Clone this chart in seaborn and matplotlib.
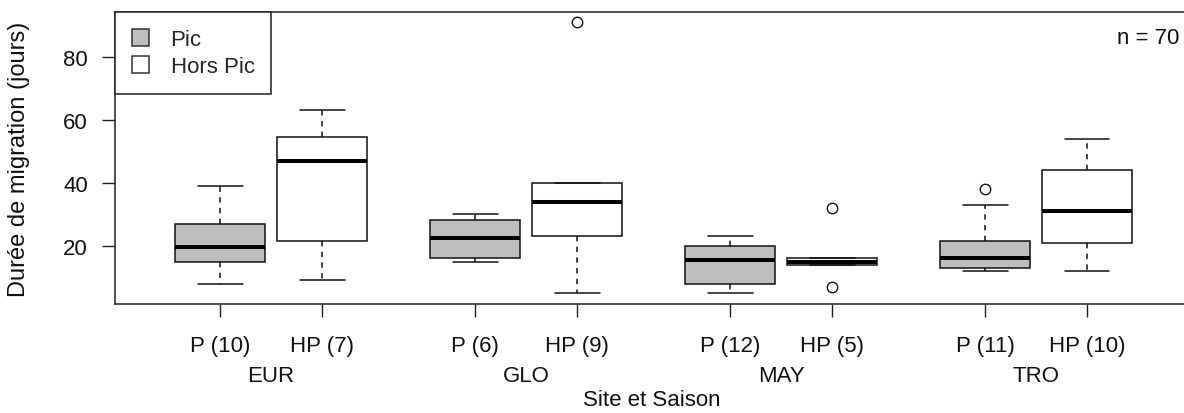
import pandas as pd
import numpy as np
import matplotlib
matplotlib.use('Agg')
import matplotlib.pyplot as plt
import matplotlib.transforms as mtransforms
from matplotlib.patches import Patch
import seaborn as sns

# donnees (durees de migration en jours) par site et saison
sites = ['EUR', 'GLO', 'MAY', 'TRO']
saisons = ['Pic', 'Hors Pic']
eur_p = [8, 12, 15, 15, 19, 20, 27, 27, 33, 39]
eur_hp = [9, 21, 22, 47, 54, 55, 63]
glo_p = [15, 15, 19, 26, 29, 30]
glo_hp = [5, 14, 23, 30, 34, 38, 40, 40, 91]
may_p = [5, 6, 7, 8, 12, 15, 16, 18, 20, 20, 22, 23]
may_hp = [7, 14, 15, 16, 32]
tro_p = [12, 12, 13, 13, 15, 16, 18, 21, 22, 33, 38]
tro_hp = [12, 18, 21, 21, 30, 32, 44, 44, 50, 54]

groupes = {('EUR', 'Pic'): eur_p, ('EUR', 'Hors Pic'): eur_hp,
           ('GLO', 'Pic'): glo_p, ('GLO', 'Hors Pic'): glo_hp,
           ('MAY', 'Pic'): may_p, ('MAY', 'Hors Pic'): may_hp,
           ('TRO', 'Pic'): tro_p, ('TRO', 'Hors Pic'): tro_hp}
rows = []
for (site, saison), vals in groupes.items():
    for v in vals:
        rows.append({'site': site, 'saison': saison, 'duree': v})
data = pd.DataFrame(rows)

sns.set_theme(style='white')
plt.rcParams['font.family'] = ['Liberation Sans', 'DejaVu Sans']

W, H = 1184, 414
fig = plt.figure(figsize=(W / 100, H / 100), dpi=100)
# zone de trace (pixels) : x 115 -> 1189, y 13 -> 305
ax = fig.add_axes([115 / W, 1 - 305 / H, (1189 - 115) / W, (305 - 13) / H])

gris = '#BEBEBE'
sns.boxplot(data=data, x='site', y='duree', hue='saison', order=sites,
            hue_order=saisons, palette={'Pic': gris, 'Hors Pic': 'white'},
            saturation=1, width=0.8, gap=0.118, linecolor='#111',
            linewidth=1.1, whis=1.5, legend=False, ax=ax,
            medianprops={'linewidth': 2.9, 'color': 'black'},
            whiskerprops={'linestyle': (0, (3.5, 3.5)), 'linewidth': 1.1},
            capprops={'linewidth': 1.1},
            flierprops={'marker': 'o', 'markerfacecolor': 'none',
                        'markeredgecolor': '#111', 'markersize': 7.5,
                        'markeredgewidth': 1.0})

ax.set_xlim(-0.612, 3.6)
ax.set_ylim(1.5, 94.3)
ax.set_xlabel('')
ax.set_ylabel('')

# etiquettes des boites : P / HP avec effectifs
pos = []
labels = []
for i, s in enumerate(sites):
    for j, sa in enumerate(saisons):
        pos.append(i + (-0.2 if j == 0 else 0.2))
        pre = 'P' if sa == 'Pic' else 'HP'
        labels.append(f'{pre} ({len(groupes[(s, sa)])})')
ax.set_xticks(pos)
ax.set_xticklabels(labels, fontsize=16)
ax.set_yticks([20, 40, 60, 80])
ax.tick_params(axis='x', length=9.4, width=1, color='#222', pad=13, labelcolor='#111')
ax.tick_params(axis='y', length=9.4, width=1, color='#222', pad=10, labelsize=16, labelcolor='#111')
ax.tick_params(left=True, bottom=True)

for sp in ax.spines.values():
    sp.set_color('#222')
    sp.set_linewidth(1.1)
    sp.set_visible(True)

# noms des sites sous les etiquettes
trans = mtransforms.blended_transform_factory(ax.transData, fig.transFigure)
for i, s in enumerate(sites):
    ax.text(i, 1 - 377 / H, s, transform=trans, ha='center', va='center',
            fontsize=16, color='#111')

fig.text(652 / W, 1 - 401 / H, 'Site et Saison', ha='center', va='center',
         fontsize=16, color='#111')
fig.text(19 / W, 1 - 159 / H, 'Durée de migration (jours)', rotation=90,
         ha='center', va='center', fontsize=17, color='#111')
fig.text(1179 / W, 1 - 39 / H, 'n = 70', ha='right', va='center',
         fontsize=16, color='#111')

handles = [Patch(facecolor=gris, edgecolor='#333', linewidth=1.1, label='Pic'),
           Patch(facecolor='white', edgecolor='#333', linewidth=1.1, label='Hors Pic')]
leg = ax.legend(handles=handles, loc='upper left', borderaxespad=0,
                fontsize=16, handlelength=0.8, handleheight=0.8,
                handletextpad=0.95, borderpad=0.75, labelspacing=0.26,
                fancybox=False, framealpha=1, edgecolor='#222')
leg.get_frame().set_linewidth(1.1)

fig.savefig('out.png', dpi=100)
